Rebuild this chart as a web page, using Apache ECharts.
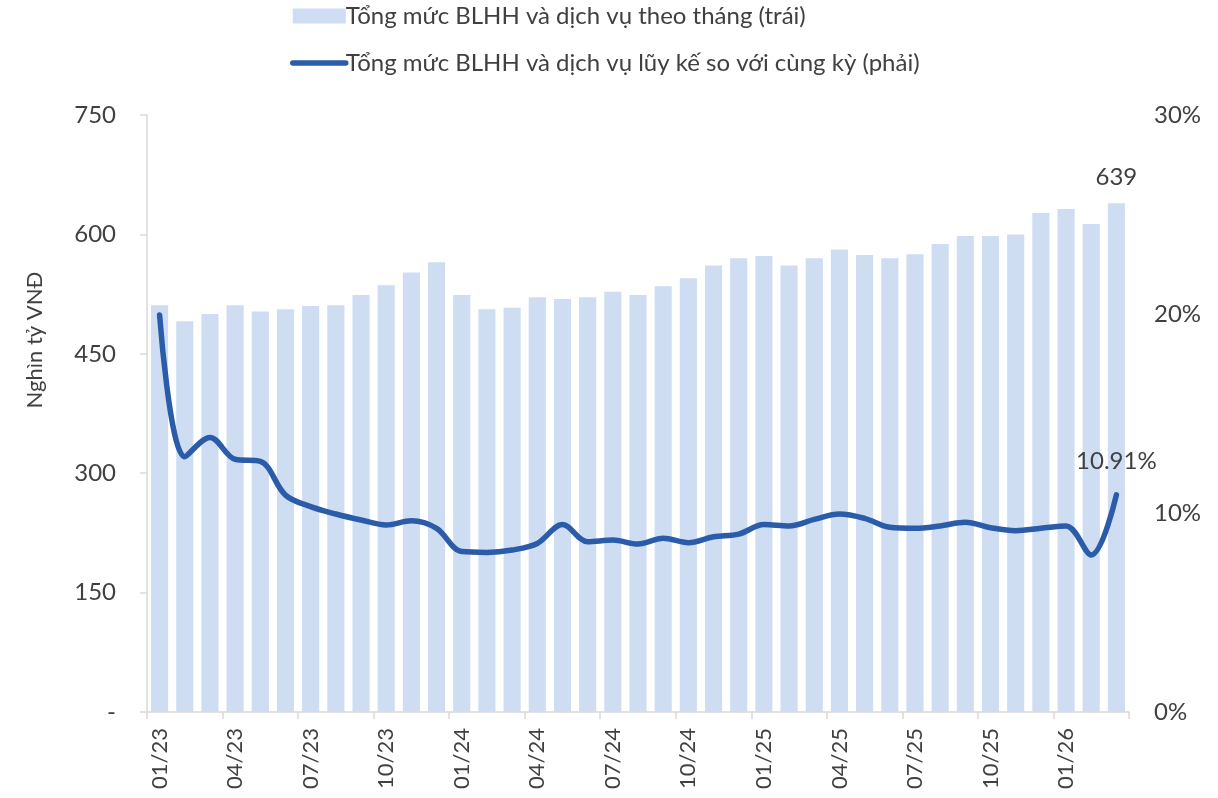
<!DOCTYPE html>
<html>
<head>
<meta charset="utf-8">
<script src="https://cdn.jsdelivr.net/npm/echarts@6/dist/echarts.min.js"></script>
<style>html,body{margin:0;padding:0;background:#fff}#c{width:1218px;height:798px}</style>
</head>
<body>
<div id="c"></div>
<script>
var categories = ['01/23','02/23','03/23','04/23','05/23','06/23','07/23','08/23','09/23','10/23','11/23','12/23',
  '01/24','02/24','03/24','04/24','05/24','06/24','07/24','08/24','09/24','10/24','11/24','12/24',
  '01/25','02/25','03/25','04/25','05/25','06/25','07/25','08/25','09/25','10/25','11/25','12/25',
  '01/26','02/26','03/26'];
var monthlyRetail = [511,491,500,511,503,506,510,511,524,536,552,565,
  524,506,508,521,519,521,528,524,535,545,561,570,
  573,561,570,581,574,570,575,588,598,598,600,627,
  632,613,639];
var cumulativeGrowth = [19.95,12.83,13.8,12.7,12.6,10.9,10.32,9.95,9.65,9.4,9.61,9.23,
  8.06,8.02,8.14,8.47,9.42,8.56,8.64,8.44,8.73,8.51,8.81,8.94,
  9.42,9.35,9.68,9.95,9.73,9.28,9.23,9.35,9.53,9.26,9.11,9.23,
  9.35,7.89,10.91];
var leftTicks = [0,150,300,450,600,750];
var rightTicks = [0,10,20,30];
var barName = 'Tổng mức BLHH và dịch vụ theo tháng (trái)';
var lineName = 'Tổng mức BLHH và dịch vụ lũy kế so với cùng kỳ (phải)';

var FONT = 'Lato';
var TXT = '#404040';
var chart = echarts.init(document.getElementById('c'), null, {renderer:'canvas'});
var lastIdx = categories.length - 1;
chart.setOption({
  animation: false,
  textStyle: {fontFamily: FONT, color: TXT},
  grid: {left: 147, right: 89, top: 115, bottom: 86},
  legend: {
    orient: 'vertical', left: 290, top: 2, itemGap: 19, padding: 0,
    itemWidth: 53, itemHeight: 15,
    textStyle: {fontFamily: FONT, fontSize: 24, color: TXT, lineHeight: 28, padding: [0,0,0,-5]},
    data: [
      {name: barName, icon: 'rect'},
      {name: lineName, itemStyle: {color: 'rgba(0,0,0,0)', borderWidth: 0, opacity: 0},
       lineStyle: {cap: 'round', width: 5.5, color: '#2a5caa'}}
    ]
  },
  graphic: [{
    type: 'text', x: 35, y: 340, rotation: Math.PI/2,
    style: {text: 'Nghìn tỷ VNĐ', fontSize: 22, fontFamily: FONT, fill: TXT, align: 'center', verticalAlign: 'middle'}
  }],
  xAxis: {
    type: 'category', data: categories, boundaryGap: true,
    axisLine: {show: true, lineStyle: {color: '#d9d9d9', width: 1.5}},
    axisTick: {show: true, interval: 2, length: 7, lineStyle: {color: '#d9d9d9', width: 1.5}},
    axisLabel: {interval: 2, rotate: 90, fontSize: 22, color: TXT, fontFamily: FONT, margin: 16}
  },
  yAxis: [{
    type: 'value', min: leftTicks[0], max: leftTicks[leftTicks.length-1], interval: 150,
    splitLine: {show: false},
    axisLine: {show: true, lineStyle: {color: '#d9d9d9', width: 1.5}},
    axisTick: {show: true, length: 7, lineStyle: {color: '#d9d9d9', width: 1.5}},
    axisLabel: {fontSize: 24, color: TXT, fontFamily: FONT, margin: 31,
      formatter: function(v){ return v === 0 ? '-' : String(v); }}
  }, {
    type: 'value', min: rightTicks[0], max: rightTicks[rightTicks.length-1], interval: 10,
    splitLine: {show: false}, axisLine: {show: false}, axisTick: {show: false},
    axisLabel: {fontSize: 24, color: TXT, fontFamily: FONT, margin: 25, formatter: '{value}%'}
  }],
  series: [{
    name: barName, type: 'bar', yAxisIndex: 0, barCategoryGap: '32%',
    itemStyle: {color: '#cfddf2'},
    data: monthlyRetail.map(function(v, i){
      return i === lastIdx ? {value: v, label: {show: true, position: 'top', distance: 14,
        fontSize: 24, color: TXT, fontFamily: FONT}} : v;
    })
  }, {
    name: lineName, type: 'line', yAxisIndex: 1, smooth: 0.35,
    symbol: 'none', showSymbol: false,
    lineStyle: {color: '#2a5caa', width: 5.5, cap: 'round', join: 'round'},
    itemStyle: {color: '#2a5caa'},
    data: cumulativeGrowth,
    markPoint: {
      symbol: 'circle', symbolSize: 0, silent: true,
      data: [{coord: [lastIdx, cumulativeGrowth[lastIdx]], value: cumulativeGrowth[lastIdx]}],
      label: {show: true, position: 'top', distance: 22, fontSize: 24, color: TXT, fontFamily: FONT,
        formatter: function(p){ return p.value.toFixed(2) + '%'; }}
    }
  }]
});
</script>
</body>
</html>
